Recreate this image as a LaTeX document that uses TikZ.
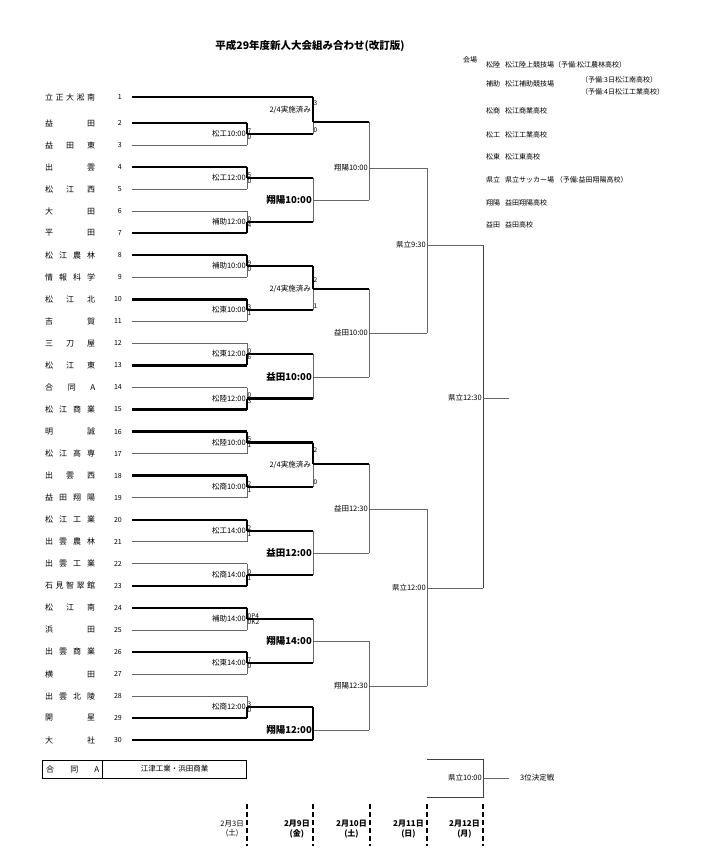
\documentclass[tikz,border=0pt]{standalone}
\usepackage{fontspec}
\setmainfont{Noto Sans CJK JP}
\newcommand\gapx{\hskip 0pt plus 1fil\relax}
\newcommand\myteam[5]{%
 \node[tname] (tn#1) at (45,#2) {\hbox to 50pt{#3}};
 \node[tnum] (tk#1) at (122,#2) {#1};
 \coordinate (ta#1) at (132,#2); \coordinate (tb#1) at (#4,#2);
 \draw[#5] (ta#1) -- (tb#1);}
\newcommand\mybr[7]{%
 \coordinate (#1t) at (#2,#3); \coordinate (#1b) at (#2,#4);
 \coordinate (#1o) at (#2,#5); \coordinate (#1n) at (#6,#5);
 \draw[thin line] (#1t) -- (#1b);
 \draw[#7] (#1o) -- (#1n);}
\newcommand\mylg[4]{\node[leg] (lg#1a) at (486,#2) {#3}; \node[leg] (lg#1b) at (505,#2) {#4};}
\begin{document}
\begin{tikzpicture}[x=1pt,y=-1pt,
 thin line/.style={draw=black!60,line width=0.8pt},
 thick line/.style={draw=black,line width=2.4pt},
 dark line/.style={draw=black!75,line width=0.9pt},
 lbl/.style={anchor=east,inner sep=1pt,font=\fontsize{7.5}{8}\selectfont},
 blbl/.style={anchor=east,inner sep=1pt,font=\fontsize{9.5}{10}\selectfont\bfseries},
 sc/.style={anchor=west,inner sep=0.5pt,font=\fontsize{6.5}{7}\selectfont},
 tname/.style={anchor=west,inner sep=0pt,font=\fontsize{8}{9}\selectfont},
 tnum/.style={anchor=east,inner sep=0pt,font=\fontsize{7}{8}\selectfont},
 leg/.style={anchor=west,inner sep=0pt,font=\fontsize{7}{8}\selectfont}]
\useasboundingbox (0,0) rectangle (711,848);
\node[font=\fontsize{10.5}{12}\selectfont\bfseries] (title) at (310,46) {平成29年度新人大会組み合わせ(改訂版)};
% teams
\myteam{1}{97}{立\gapx 正\gapx 大\gapx 淞\gapx 南}{313}{thick line}
\myteam{2}{123}{益\gapx 田}{247}{thick line}
\myteam{3}{145}{益\gapx 田\gapx 東}{247}{thin line}
\myteam{4}{167.1}{出\gapx 雲}{247}{thick line}
\myteam{5}{189.1}{松\gapx 江\gapx 西}{247}{thin line}
\myteam{6}{211.2}{大\gapx 田}{247}{thin line}
\myteam{7}{233.2}{平\gapx 田}{247}{thick line}
\myteam{8}{255.2}{松\gapx 江\gapx 農\gapx 林}{247}{thick line}
\myteam{9}{277.3}{情\gapx 報\gapx 科\gapx 学}{247}{thin line}
\myteam{10}{299.3}{松\gapx 江\gapx 北}{247}{thick line}
\myteam{11}{321.4}{吉\gapx 賀}{247}{thin line}
\myteam{12}{343.4}{三\gapx 刀\gapx 屋}{247}{thin line}
\myteam{13}{365.4}{松\gapx 江\gapx 東}{247}{thick line}
\myteam{14}{387.5}{合\gapx 同\gapx A}{247}{thin line}
\myteam{15}{409.5}{松\gapx 江\gapx 商\gapx 業}{247}{thick line}
\myteam{16}{431.6}{明\gapx 誠}{247}{thick line}
\myteam{17}{453.6}{松\gapx 江\gapx 高\gapx 専}{247}{thin line}
\myteam{18}{475.6}{出\gapx 雲\gapx 西}{247}{thick line}
\myteam{19}{497.7}{益\gapx 田\gapx 翔\gapx 陽}{247}{thin line}
\myteam{20}{519.7}{松\gapx 江\gapx 工\gapx 業}{247}{thick line}
\myteam{21}{541.8}{出\gapx 雲\gapx 農\gapx 林}{247}{thin line}
\myteam{22}{563.8}{出\gapx 雲\gapx 工\gapx 業}{247}{thin line}
\myteam{23}{585.8}{石\gapx 見\gapx 智\gapx 翠\gapx 館}{247}{thick line}
\myteam{24}{607.9}{松\gapx 江\gapx 南}{247}{thick line}
\myteam{25}{629.9}{浜\gapx 田}{247}{thin line}
\myteam{26}{651.9}{出\gapx 雲\gapx 商\gapx 業}{247}{thick line}
\myteam{27}{674}{横\gapx 田}{247}{thin line}
\myteam{28}{696}{出\gapx 雲\gapx 北\gapx 陵}{247}{thin line}
\myteam{29}{718.1}{開\gapx 星}{247}{thick line}
\myteam{30}{740.1}{大\gapx 社}{313}{thick line}
% round 1
\mybr{m23}{247}{123}{145}{134}{313}{thick line}\draw[thick line] (m23t) -- (m23o);
\node[lbl] at (m23o) {松工10:00}; \node[sc,anchor=south west] at (m23o) {7}; \node[sc,anchor=north west] at (m23o) {0};
\mybr{m45}{247}{167.1}{189.1}{178}{313}{thick line}\draw[thick line] (m45t) -- (m45o);
\node[lbl] at (m45o) {松工12:00}; \node[sc,anchor=south west] at (m45o) {5}; \node[sc,anchor=north west] at (m45o) {0};
\mybr{m67}{247}{211.2}{233.2}{222}{313}{thick line}\draw[thick line] (m67b) -- (m67o);
\node[lbl] at (m67o) {補助12:00}; \node[sc,anchor=south west] at (m67o) {0}; \node[sc,anchor=north west] at (m67o) {4};
\mybr{m89}{247}{255.2}{277.3}{266}{313}{thick line}\draw[thick line] (m89t) -- (m89o);
\node[lbl] at (m89o) {補助10:00}; \node[sc,anchor=south west] at (m89o) {9}; \node[sc,anchor=north west] at (m89o) {0};
\mybr{m1011}{247}{299.3}{321.4}{310}{313}{thick line}\draw[thick line] (m1011t) -- (m1011o);
\node[lbl] at (m1011o) {松東10:00}; \node[sc,anchor=south west] at (m1011o) {3}; \node[sc,anchor=north west] at (m1011o) {1};
\mybr{m1213}{247}{343.4}{365.4}{354}{313}{thick line}\draw[thick line] (m1213b) -- (m1213o);
\node[lbl] at (m1213o) {松東12:00}; \node[sc,anchor=south west] at (m1213o) {0}; \node[sc,anchor=north west] at (m1213o) {6};
\mybr{m1415}{247}{387.5}{409.5}{398.5}{313}{thick line}\draw[thick line] (m1415b) -- (m1415o);
\node[lbl] at (m1415o) {松陸12:00}; \node[sc,anchor=south west] at (m1415o) {0}; \node[sc,anchor=north west] at (m1415o) {3};
\mybr{m1617}{247}{431.6}{453.6}{442.6}{313}{thick line}\draw[thick line] (m1617t) -- (m1617o);
\node[lbl] at (m1617o) {松陸10:00}; \node[sc,anchor=south west] at (m1617o) {5}; \node[sc,anchor=north west] at (m1617o) {1};
\mybr{m1819}{247}{475.6}{497.7}{486.7}{313}{thick line}\draw[thick line] (m1819t) -- (m1819o);
\node[lbl] at (m1819o) {松商10:00}; \node[sc,anchor=south west] at (m1819o) {2}; \node[sc,anchor=north west] at (m1819o) {1};
\mybr{m2021}{247}{519.7}{541.8}{530.7}{313}{thick line}\draw[thick line] (m2021t) -- (m2021o);
\node[lbl] at (m2021o) {松工14:00}; \node[sc,anchor=south west] at (m2021o) {2}; \node[sc,anchor=north west] at (m2021o) {1};
\mybr{m2223}{247}{563.8}{585.8}{574.8}{313}{thick line}\draw[thick line] (m2223b) -- (m2223o);
\node[lbl] at (m2223o) {松商14:00}; \node[sc,anchor=south west] at (m2223o) {0}; \node[sc,anchor=north west] at (m2223o) {1};
\mybr{m2425}{247}{607.9}{629.9}{619}{313}{thick line}\draw[thick line] (m2425t) -- (m2425o);
\node[lbl] at (m2425o) {補助14:00}; \node[sc,anchor=south west] at (m2425o) {0P4}; \node[sc,anchor=north west] at (m2425o) {0K2};
\mybr{m2627}{247}{651.9}{674}{663}{313}{thick line}\draw[thick line] (m2627t) -- (m2627o);
\node[lbl] at (m2627o) {松東14:00}; \node[sc,anchor=south west] at (m2627o) {7}; \node[sc,anchor=north west] at (m2627o) {0};
\mybr{m2829}{247}{696}{718.1}{707}{313}{thick line}\draw[thick line] (m2829b) -- (m2829o);
\node[lbl] at (m2829o) {松商12:00}; \node[sc,anchor=south west] at (m2829o) {3}; \node[sc,anchor=north west] at (m2829o) {0};
% round 2
\mybr{ra}{313}{97}{134}{122}{369}{thick line}\draw[thick line] (rat) -- (rao);
\node[lbl] at (312,110) {2/4実施済み}; \node[sc] at (313,103) {3}; \node[sc] at (313,130) {0};
\mybr{rb}{313}{178}{222}{200}{369}{thin line}
\node[blbl] at (rbo) {翔陽10:00};
\mybr{rc}{313}{266}{310}{289}{369}{thick line}\draw[thick line] (rct) -- (rco);
\node[lbl] at (312,289) {2/4実施済み}; \node[sc] at (313,280) {2}; \node[sc] at (313,306) {1};
\mybr{rd}{313}{354}{398.5}{377}{369}{thin line}
\node[blbl] at (rdo) {益田10:00};
\mybr{re}{313}{442.6}{486.7}{464}{369}{thick line}\draw[thick line] (ret) -- (reo);
\node[lbl] at (312,465) {2/4実施済み}; \node[sc] at (313,450) {2}; \node[sc] at (313,482) {0};
\mybr{rf}{313}{530.7}{574.8}{553}{369}{thin line}
\node[blbl] at (rfo) {益田12:00};
\mybr{rg}{313}{619}{663}{641}{369}{thin line}
\node[blbl] at (rgo) {翔陽14:00};
\mybr{rh}{313}{707}{740.1}{730}{369}{thin line}
\draw[thick line] (rht) -- (rhb);
\node[blbl] at (rho) {翔陽12:00};
% round 3
\mybr{qa}{369}{122}{200}{168}{427}{thin line}
\node[lbl] at (qao) {翔陽10:00};
\mybr{qb}{369}{289}{377}{333}{427}{thin line}
\node[lbl] at (qbo) {益田10:00};
\mybr{qc}{369}{464}{553}{509}{427}{thin line}
\node[lbl] at (qco) {益田12:30};
\mybr{qd}{369}{641}{730}{686}{427}{thin line}
\node[lbl] at (qdo) {翔陽12:30};
% semis
\mybr{sa}{427}{168}{333}{245}{483}{thin line}
\node[lbl] at (sao) {県立9:30};
\mybr{sb}{427}{509}{686}{588}{483}{thin line}
\node[lbl] at (sbo) {県立12:00};
% final
\coordinate (fo) at (483,398); \coordinate (fe) at (509,398);
\draw[dark line] (san) -- (sbn);
\draw[thin line] (fo) -- (fe);
\node[lbl] at (fo) {県立12:30};
% third place
\coordinate (ta) at (427,759); \coordinate (tb) at (483,759); \coordinate (tc) at (483,797); \coordinate (td) at (427,797);
\draw[dark line] (ta) -- (tb) -- (tc) -- (td);
\coordinate (to) at (483,778); \coordinate (te) at (509,778);
\draw[thin line] (to) -- (te);
\node[lbl] at (to) {県立10:00};
\node[leg,font=\fontsize{7.5}{8}\selectfont] (third) at (520,778) {3位決定戦};
% joint team box
\draw[line width=0.8pt] (42.7,760) rectangle (246.7,778);
\draw[line width=0.8pt] (102.7,760) -- (102.7,778);
\node[tname] (gA) at (46,769) {\hbox to 53pt{合\gapx 同\gapx A}};
\node[font=\fontsize{7.5}{8}\selectfont] (gB) at (174.7,769) {江津工業・浜田商業};
% legend
\node[leg] (kaijo) at (463,60) {会場};
\mylg{1}{65}{松陸}{松江陸上競技場（予備:松江農林高校）}
\mylg{2}{84}{補助}{松江補助競技場}
\node[leg] (lg2c) at (581,80) {（予備:3日松江南高校）};
\node[leg] (lg2d) at (581,91.5) {（予備:4日松江工業高校）};
\mylg{3}{111}{松商}{松江商業高校}
\mylg{4}{135}{松工}{松江工業高校}
\mylg{5}{157}{松東}{松江東高校}
\mylg{6}{180}{県立}{県立サッカー場 （予備:益田翔陽高校）}
\mylg{7}{202.7}{翔陽}{益田翔陽高校}
\mylg{8}{225}{益田}{益田高校}
% dates
\foreach \x in {247,313,370,427,483}
  \draw[line width=1.6pt,dash pattern=on 5pt off 3pt] (\x,804) -- (\x,846);
\node[anchor=east,align=center,inner sep=1pt,font=\fontsize{7.5}{9}\selectfont] (d1) at (245,829) {2月3日\\(土)};
\node[anchor=east,align=center,inner sep=1pt,font=\fontsize{8}{9.5}\selectfont\bfseries] (d2) at (311,829) {2月9日\\(金)};
\node[anchor=east,align=center,inner sep=1pt,font=\fontsize{8}{9.5}\selectfont\bfseries] (d3) at (368,829) {2月10日\\(土)};
\node[anchor=east,align=center,inner sep=1pt,font=\fontsize{8}{9.5}\selectfont\bfseries] (d4) at (425,829) {2月11日\\(日)};
\node[anchor=east,align=center,inner sep=1pt,font=\fontsize{8}{9.5}\selectfont\bfseries] (d5) at (481,829) {2月12日\\(月)};
\end{tikzpicture}
\end{document}
